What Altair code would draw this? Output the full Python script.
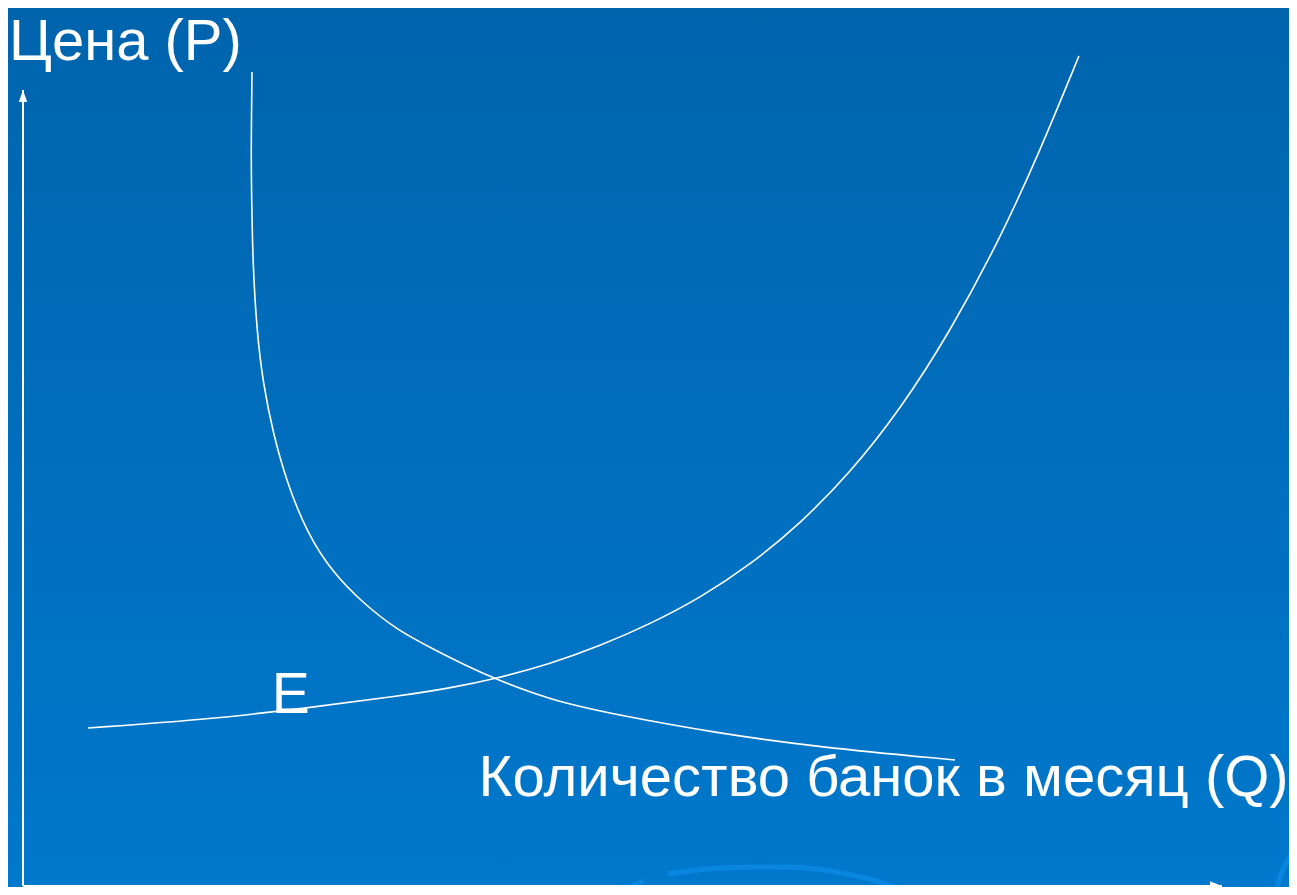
import altair as alt
import pandas as pd

# ---- data (Q: quantity units 0..100, P: price units 0..100) ----
supply_q = [5.42, 14.76, 23.10, 31.44, 35.61, 39.37, 43.95, 48.12, 52.29, 56.46,
            60.63, 64.80, 68.97, 73.14, 77.31, 81.48, 84.82, 88.07]
supply_p = [19.85, 20.85, 22.24, 23.87, 24.87, 26.01, 27.89, 30.15, 32.91, 36.18,
            40.33, 45.48, 51.88, 59.80, 69.60, 81.28, 92.34, 104.27]

demand_q = [19.10, 19.02, 19.07, 19.18, 19.52, 20.02, 20.85, 22.02, 23.69, 25.85,
            28.36, 31.19, 34.20, 36.80, 39.37, 43.95, 49.54, 57.88, 66.22, 77.73]
demand_p = [102.26, 92.46, 86.18, 77.76, 69.47, 63.19, 56.91, 50.63, 44.35, 39.32,
            35.55, 32.16, 29.77, 27.80, 26.01, 23.37, 21.48, 19.22, 17.46, 15.83]

# decorative background swooshes (template ornament)
decor_id = ["a"] * 7 + ["b"] * 2 + ["d"] * 3
decor_q = [53.79, 57.05, 60.88, 65.39, 68.72, 71.48, 73.73,
           49.46, 51.71,
           104.42, 105.09, 106.26]
decor_p = [1.51, 2.13, 2.38, 2.26, 1.51, 0.50, -0.75,
           -1.0, 0.63,
           -1.0, 2.13, 5.27]

axis_max = 100
labels_text = ["Цена (P)", "Количество банок в месяц (Q)", "E"]
labels_q = [-1.17, 38.0, 20.75]
labels_p = [103.77, 11.31, 21.73]
labels_size = [58, 58, 57]

# ---- frames ----
curves = pd.DataFrame({
    "curve": ["supply"] * len(supply_q) + ["demand"] * len(demand_q),
    "i": list(range(len(supply_q))) + list(range(len(demand_q))),
    "q": supply_q + demand_q,
    "p": supply_p + demand_p,
})
decor = pd.DataFrame({"id": decor_id, "i": list(range(len(decor_q))), "q": decor_q, "p": decor_p})
axes_df = pd.DataFrame({"q": [0, 0], "q2": [axis_max, 0], "p": [0, 0], "p2": [0, axis_max]})
arrows = pd.DataFrame({"q": [axis_max, 0], "p": [0, axis_max], "dir": ["right", "up"]})
labels = pd.DataFrame({"t": labels_text, "q": labels_q, "p": labels_p, "s": labels_size})

W, H = 1281, 879
xs = alt.Scale(domain=[-1.251, 105.59], nice=False, zero=False)
ys = alt.Scale(domain=[-0.126, 110.30], nice=False, zero=False)

bg = alt.Chart(pd.DataFrame({"a": [0]})).mark_rect(
    color=alt.Gradient(
        gradient="linear", x1=0, y1=0, x2=0, y2=1,
        stops=[alt.GradientStop(offset=0, color="#0064ad"),
               alt.GradientStop(offset=1, color="#0078cc")],
    )
).encode(x=alt.value(0), x2=alt.value(W), y=alt.value(0), y2=alt.value(H))

decor_layer = alt.Chart(decor).mark_line(
    color="#0a88e2", strokeWidth=5, interpolate="catmull-rom", opacity=0.9
).encode(
    x=alt.X("q:Q", scale=xs, axis=None),
    y=alt.Y("p:Q", scale=ys, axis=None),
    detail="id:N", order="i:Q",
)

axis_lines = alt.Chart(axes_df).mark_rule(color="white", strokeWidth=2).encode(
    x=alt.X("q:Q", scale=xs, axis=None), x2="q2:Q",
    y=alt.Y("p:Q", scale=ys, axis=None), y2="p2:Q",
)

arrow_r = alt.Chart(arrows[arrows.dir == "right"]).mark_point(
    shape="M0,0L-2,-0.8L-2,0.8Z", filled=True, color="white", opacity=1, size=144
).encode(x=alt.X("q:Q", scale=xs, axis=None), y=alt.Y("p:Q", scale=ys, axis=None))

arrow_u = alt.Chart(arrows[arrows.dir == "up"]).mark_point(
    shape="M0,0L-0.7,2L0.7,2Z", filled=True, color="white", opacity=1, size=144
).encode(x=alt.X("q:Q", scale=xs, axis=None), y=alt.Y("p:Q", scale=ys, axis=None))

curve_layer = alt.Chart(curves).mark_line(
    color="white", strokeWidth=1.6, interpolate="basis"
).encode(
    x=alt.X("q:Q", scale=xs, axis=None),
    y=alt.Y("p:Q", scale=ys, axis=None),
    detail="curve:N", order="i:Q",
)

text_layer = alt.Chart(labels).mark_text(
    color="white", font="Liberation Sans", align="left", baseline="alphabetic"
).encode(
    x=alt.X("q:Q", scale=xs, axis=None),
    y=alt.Y("p:Q", scale=ys, axis=None),
    text="t:N",
    size=alt.Size("s:Q", scale=None, legend=None),
)

chart = alt.layer(bg, decor_layer, axis_lines, arrow_r, arrow_u, curve_layer, text_layer).properties(
    width=W, height=H, padding=0, autosize=alt.AutoSizeParams(type="none"),
    background="#006fbd",
).configure_view(stroke=None)

chart.save("out.html", embed_options={"renderer": "svg", "actions": False})
